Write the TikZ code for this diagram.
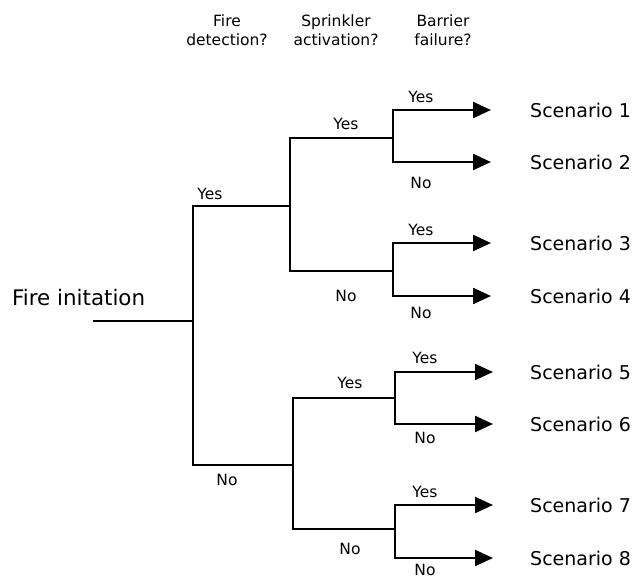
\documentclass[tikz,border=0pt]{standalone}
\usepackage{fontspec}
\setmainfont{DejaVu Sans}
\usetikzlibrary{arrows.meta}
\begin{document}
\begin{tikzpicture}[x=1pt,y=-1pt,
  branch/.style={line width=2.3pt, line join=miter},
  outcome/.style={branch,-{Triangle[length=18pt,width=16pt]}},
  lbl/.style={font=\fontsize{15.5}{18}\selectfont, inner sep=1pt},
  head/.style={font=\fontsize{15.5}{19}\selectfont, align=center, inner sep=0pt},
  scen/.style={font=\fontsize{19}{22}\selectfont, anchor=west, inner sep=0pt}]
\useasboundingbox (0,0) rectangle (633,579);

% column headings
\node[head] (h1) at (227,30) {Fire\\detection?};
\node[head] (h2) at (336,30) {Sprinkler\\activation?};
\node[head] (h3) at (443,30) {Barrier\\failure?};

% initiating event
\node[font=\fontsize{21.4}{24}\selectfont, anchor=west, inner sep=0pt] (init) at (12,298) {Fire initation};
\coordinate (start) at (93,321);

% fork points
\coordinate (f1) at (193,321);
\coordinate (f2a) at (290,206);
\coordinate (f2b) at (293,465);
\coordinate (f3a) at (393,138);
\coordinate (f3b) at (393,271);
\coordinate (f3c) at (395,398);
\coordinate (f3d) at (395,529);

% arrow ends
\coordinate (e1) at (491,110);
\coordinate (e2) at (491,162);
\coordinate (e3) at (491,243);
\coordinate (e4) at (491,296);
\coordinate (e5) at (493,372);
\coordinate (e6) at (493,424);
\coordinate (e7) at (493,505);
\coordinate (e8) at (493,558);

% outcomes
\node[scen] (s1) at (530,110) {Scenario 1};
\node[scen] (s2) at (530,162) {Scenario 2};
\node[scen] (s3) at (530,243) {Scenario 3};
\node[scen] (s4) at (530,296) {Scenario 4};
\node[scen] (s5) at (530,372) {Scenario 5};
\node[scen] (s6) at (530,424) {Scenario 6};
\node[scen] (s7) at (530,505) {Scenario 7};
\node[scen] (s8) at (530,558) {Scenario 8};

% tree branches
\draw[branch] (start) -- (f1);
\draw[branch] (f1) |- (f2a);
\draw[branch] (f1) |- (f2b);
\draw[branch] (f2a) |- (f3a);
\draw[branch] (f2a) |- (f3b);
\draw[branch] (f2b) |- (f3c);
\draw[branch] (f2b) |- (f3d);
\draw[outcome] (f3a) |- (e1);
\draw[outcome] (f3a) |- (e2);
\draw[outcome] (f3b) |- (e3);
\draw[outcome] (f3b) |- (e4);
\draw[outcome] (f3c) |- (e5);
\draw[outcome] (f3c) |- (e6);
\draw[outcome] (f3d) |- (e7);
\draw[outcome] (f3d) |- (e8);

% branch labels
\node[lbl] (y1) at (210,194) {Yes};
\node[lbl] (n1) at (227,480) {No};
\node[lbl] (y2a) at (346,124) {Yes};
\node[lbl] (n2a) at (346,296) {No};
\node[lbl] (y2b) at (350,383) {Yes};
\node[lbl] (n2b) at (350,549) {No};
\node[lbl] (y3a) at (421,97) {Yes};
\node[lbl] (n3a) at (421,183) {No};
\node[lbl] (y3b) at (421,230) {Yes};
\node[lbl] (n3b) at (421,313) {No};
\node[lbl] (y3c) at (425,358) {Yes};
\node[lbl] (n3c) at (425,438) {No};
\node[lbl] (y3d) at (425,492) {Yes};
\node[lbl] (n3d) at (425,570) {No};
\end{tikzpicture}
\end{document}
